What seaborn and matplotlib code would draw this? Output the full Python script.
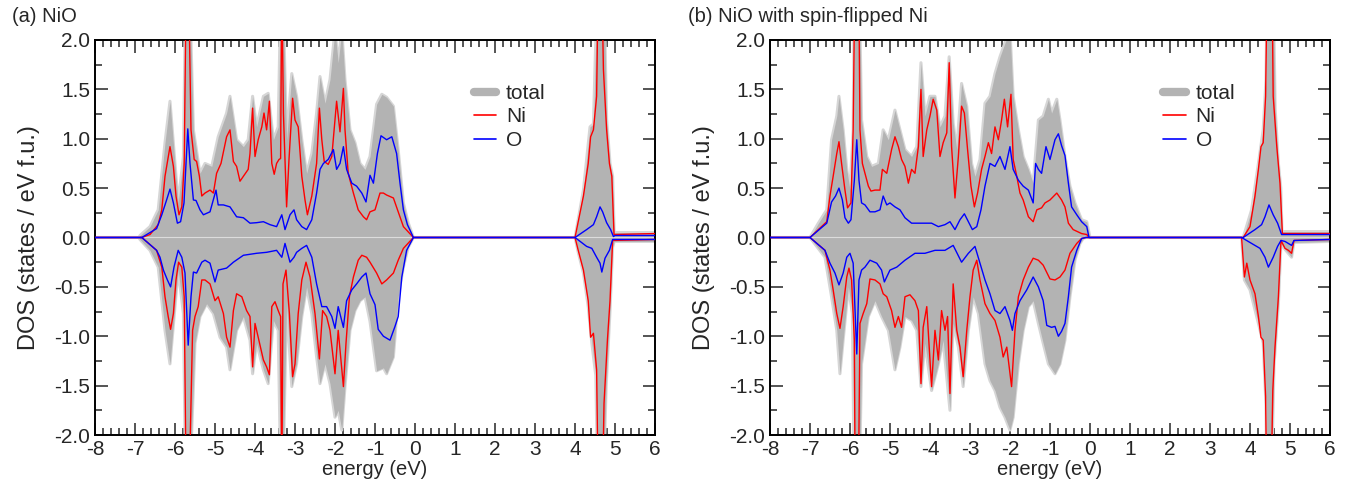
import numpy as np
import pandas as pd
import matplotlib
matplotlib.use('Agg')
import matplotlib.pyplot as plt
from matplotlib.ticker import MultipleLocator
from matplotlib.lines import Line2D
import seaborn as sns

# ---------------- panel (a): NiO ----------------
a_ni_up_e = [-8, -6.83, -6.625, -6.42, -6.33, -6.25, -6.125, -6.04, -5.975, -5.9, -5.83, -5.77, -5.72, -5.66, -5.6,
             -5.52, -5.46, -5.39, -5.33, -5.25, -5.125, -5.04, -4.96, -4.85, -4.71, -4.625, -4.54, -4.46, -4.375,
             -4.29, -4.17, -4.125, -4.06, -4.0, -3.92, -3.83, -3.775, -3.71, -3.64, -3.58, -3.52, -3.46, -3.4, -3.36,
             -3.33, -3.29, -3.21, -3.15, -3.06, -3.0, -2.92, -2.83, -2.75, -2.69, -2.58, -2.46, -2.39, -2.33, -2.27,
             -2.17, -2.08, -1.96, -1.875, -1.79, -1.75, -1.67, -1.54, -1.42, -1.29, -1.21, -1.125, -1.0, -0.875,
             -0.79, -0.71, -0.54, -0.42, -0.29, -0.04, 4.0, 4.21, 4.33, 4.39, 4.46, 4.54, 4.58, 4.67, 4.71, 4.79,
             4.86, 4.92, 4.975, 6.0]
a_ni_up = [0, 0, 0.03, 0.13, 0.28, 0.62, 0.92, 0.72, 0.42, 0.23, 0.31, 0.75, 2.6, 2.6, 1.09,
           0.79, 0.77, 0.62, 0.42, 0.45, 0.48, 0.45, 0.65, 0.75, 1.02, 1.09, 0.77, 0.72, 0.57,
           0.62, 0.69, 0.85, 1.31, 0.82, 0.99, 1.12, 1.26, 1.09, 1.38, 0.75, 0.64, 0.75, 0.79, 0.8,
           2.6, 1.26, 0.31, 0.79, 1.41, 1.19, 1.12, 0.62, 0.38, 0.23, 0.42, 0.75, 1.31, 0.99, 0.77,
           0.74, 0.82, 1.38, 1.07, 1.51, 1.09, 0.65, 0.45, 0.28, 0.21, 0.18, 0.26, 0.28, 0.45,
           0.45, 0.43, 0.40, 0.26, 0.11, 0, 0, 0.42, 0.75, 1.02, 1.09, 1.43, 2.6, 2.6, 1.70, 1.09,
           0.75, 0.62, 0.03, 0.04]

a_ni_dn_e = [-8, -6.83, -6.46, -6.33, -6.25, -6.17, -6.11, -6.04, -5.975, -5.91, -5.83, -5.77, -5.72, -5.65, -5.56,
             -5.5, -5.42, -5.33, -5.25, -5.125, -5.0, -4.92, -4.79, -4.71, -4.625, -4.54, -4.46, -4.33, -4.21,
             -4.125, -4.06, -4.0, -3.92, -3.79, -3.71, -3.64, -3.58, -3.5, -3.42, -3.36, -3.33, -3.3, -3.225,
             -3.14, -3.06, -3.0, -2.92, -2.83, -2.725, -2.625, -2.5, -2.39, -2.31, -2.21, -2.125, -2.0, -1.92,
             -1.79, -1.725, -1.64, -1.54, -1.42, -1.33, -1.21, -1.125, -0.96, -0.83, -0.71, -0.54, -0.42, -0.29,
             -0.04, 4.0, 4.08, 4.21, 4.33, 4.39, 4.46, 4.54, 4.58, 4.685, 4.725, 4.81, 4.875, 4.94, 6.0]
a_ni_dn = [0, 0, -0.13, -0.30, -0.60, -0.80, -0.93, -0.77, -0.43, -0.25, -0.30, -0.60, -2.6, -2.6, -0.94,
           -0.80, -0.70, -0.43, -0.43, -0.47, -0.64, -0.60, -0.77, -1.01, -1.11, -0.74, -0.57, -0.60, -0.74,
           -0.80, -1.31, -0.87, -1.01, -1.24, -1.31, -1.39, -0.70, -0.65, -0.74, -0.80, -2.6, -0.47, -0.33,
           -0.77, -1.41, -1.28, -0.77, -0.43, -0.25, -0.40, -0.77, -1.23, -0.74, -0.80, -0.94, -1.38, -0.94,
           -1.51, -1.07, -0.60, -0.40, -0.23, -0.18, -0.20, -0.25, -0.36, -0.47, -0.43, -0.36, -0.23, -0.11,
           0, 0, -0.13, -0.33, -0.64, -1.01, -0.97, -1.34, -2.6, -2.6, -1.68, -1.04, -0.64, -0.03, -0.02]

a_o_up_e = [-8, -6.83, -6.46, -6.33, -6.21, -6.125, -6.04, -5.94, -5.86, -5.775, -5.68, -5.625, -5.54, -5.475,
            -5.375, -5.29, -5.125, -4.975, -4.92, -4.79, -4.625, -4.46, -4.29, -4.125, -3.96, -3.79, -3.625,
            -3.46, -3.33, -3.25, -3.125, -3.025, -2.96, -2.83, -2.71, -2.58, -2.46, -2.375, -2.29, -2.17, -2.04,
            -1.96, -1.875, -1.79, -1.71, -1.58, -1.46, -1.33, -1.225, -1.125, -1.04, -0.94, -0.85, -0.71, -0.58,
            -0.46, -0.375, -0.29, -0.19, -0.04, 4.0, 4.29, 4.46, 4.54, 4.625, 4.69, 4.79, 4.89, 4.96, 5.0, 6.0]
a_o_up = [0, 0, 0.09, 0.23, 0.38, 0.49, 0.35, 0.145, 0.16, 0.35, 1.10, 0.75, 0.38, 0.375,
          0.28, 0.23, 0.26, 0.48, 0.33, 0.33, 0.31, 0.21, 0.20, 0.145, 0.15, 0.16, 0.13,
          0.11, 0.23, 0.08, 0.23, 0.28, 0.18, 0.11, 0.08, 0.18, 0.45, 0.69, 0.75, 0.79, 0.89,
          0.69, 0.75, 0.92, 0.69, 0.55, 0.52, 0.45, 0.36, 0.63, 0.55, 0.85, 1.03, 0.99, 1.02,
          0.85, 0.55, 0.28, 0.13, 0, 0, 0.08, 0.13, 0.21, 0.31, 0.26, 0.15, 0.08, 0.01, 0.02, 0.02]

a_o_dn_e = [-8, -6.83, -6.46, -6.375, -6.29, -6.19, -6.11, -6.025, -5.92, -5.83, -5.75, -5.67, -5.6, -5.54,
            -5.46, -5.33, -5.25, -5.125, -5.0, -4.92, -4.71, -4.54, -4.29, -3.96, -3.71, -3.46, -3.33, -3.25,
            -3.125, -3.025, -2.96, -2.83, -2.71, -2.58, -2.46, -2.33, -2.21, -2.08, -2.0, -1.92, -1.79, -1.71,
            -1.58, -1.46, -1.33, -1.225, -1.125, -1.0, -0.92, -0.79, -0.625, -0.5, -0.42, -0.33, -0.21, -0.04,
            4.0, 4.29, 4.42, 4.54, 4.625, 4.67, 4.75, 4.86, 4.94, 6.0]
a_o_dn = [0, 0, -0.13, -0.2, -0.33, -0.43, -0.5, -0.3, -0.13, -0.2, -0.36, -1.09, -0.6, -0.35,
          -0.36, -0.25, -0.23, -0.26, -0.45, -0.33, -0.31, -0.25, -0.18, -0.16, -0.15, -0.13, -0.2, -0.06,
          -0.25, -0.2, -0.15, -0.11, -0.08, -0.2, -0.47, -0.70, -0.70, -0.80, -0.92, -0.70, -0.91, -0.64,
          -0.53, -0.47, -0.40, -0.36, -0.57, -0.68, -0.93, -1.0, -1.04, -0.90, -0.80, -0.40, -0.13, 0,
          0, -0.09, -0.11, -0.2, -0.26, -0.35, -0.21, -0.13, -0.02, -0.02]

a_tot_up_e = [-8, -6.9, -6.875, -6.625, -6.42, -6.25, -6.125, -6.0, -5.92, -5.79, -5.73, -5.64, -5.54, -5.375,
              -5.25, -5.08, -4.92, -4.71, -4.625, -4.46, -4.29, -4.17, -4.06, -3.96, -3.79, -3.67, -3.54, -3.42,
              -3.35, -3.31, -3.21, -3.08, -2.96, -2.83, -2.71, -2.58, -2.46, -2.375, -2.25, -2.125, -2.0, -1.92,
              -1.83, -1.75, -1.625, -1.5, -1.375, -1.25, -1.125, -0.96, -0.83, -0.71, -0.54, -0.42, -0.29, -0.17,
              -0.04, 4.0, 4.21, 4.375, 4.46, 4.56, 4.72, 4.79, 4.875, 4.94, 4.98, 6.0]
a_tot_up = [0, 0, 0.02, 0.11, 0.28, 0.96, 1.38, 0.75, 0.35, 0.82, 2.6, 2.6, 1.09, 0.65,
            0.75, 0.72, 1.02, 1.26, 1.43, 0.99, 0.92, 0.99, 1.43, 1.12, 1.43, 1.46, 0.99, 1.12,
            2.6, 2.6, 0.99, 1.66, 1.43, 0.99, 0.65, 0.85, 1.26, 1.63, 1.36, 1.6, 2.1, 1.77,
            2.1, 1.6, 1.09, 0.96, 0.75, 0.69, 0.82, 1.35, 1.45, 1.42, 1.33, 0.89, 0.35, 0.15,
            0, 0, 0.48, 1.12, 1.15, 2.6, 2.6, 1.2, 0.75, 0.62, 0.05, 0.05]

a_tot_dn_e = [-8, -6.9, -6.875, -6.625, -6.42, -6.25, -6.125, -6.0, -5.92, -5.79, -5.73, -5.64, -5.5, -5.375,
              -5.21, -5.04, -4.875, -4.71, -4.625, -4.46, -4.29, -4.125, -4.06, -3.96, -3.79, -3.67, -3.54, -3.42,
              -3.35, -3.31, -3.21, -3.08, -2.96, -2.83, -2.71, -2.58, -2.46, -2.375, -2.25, -2.125, -2.0, -1.92,
              -1.83, -1.75, -1.625, -1.5, -1.375, -1.25, -1.125, -0.96, -0.79, -0.71, -0.54, -0.42, -0.29, -0.17,
              -0.04, 4.0, 4.08, 4.21, 4.33, 4.42, 4.52, 4.57, 4.7, 4.78, 4.875, 4.94, 4.98, 6.0]
a_tot_dn = [0, 0, -0.02, -0.13, -0.3, -0.94, -1.28, -0.7, -0.33, -0.77, -2.6, -2.6, -1.07, -0.8,
            -0.67, -0.77, -1.01, -1.11, -1.34, -0.94, -0.80, -1.04, -1.38, -1.07, -1.34, -1.48, -0.84, -0.94,
            -2.6, -2.6, -0.67, -1.51, -1.28, -0.8, -0.5, -0.77, -1.21, -1.48, -1.28, -1.48, -1.82, -1.75,
            -1.95, -1.51, -0.94, -0.74, -0.64, -0.6, -0.85, -1.35, -1.32, -1.38, -1.21, -0.6, -0.3, -0.1,
            0, 0, -0.15, -0.36, -0.70, -1.07, -1.4, -2.6, -2.6, -1.5, -0.74, -0.1, -0.04, -0.04]

# ---------------- panel (b): NiO with spin-flipped Ni ----------------
b_ni_up_e = [-8, -7.0, -6.79, -6.58, -6.5, -6.42, -6.33, -6.275, -6.21, -6.125, -6.06, -5.975, -5.92, -5.88,
             -5.78, -5.75, -5.69, -5.625, -5.54, -5.475, -5.375, -5.25, -5.19, -5.08, -4.96, -4.875, -4.79,
             -4.71, -4.625, -4.54, -4.46, -4.375, -4.29, -4.225, -4.17, -4.08, -4.0, -3.92, -3.83, -3.75, -3.67,
             -3.58, -3.52, -3.46, -3.375, -3.29, -3.21, -3.14, -3.06, -2.975, -2.89, -2.81, -2.71, -2.625,
             -2.54, -2.46, -2.375, -2.29, -2.21, -2.14, -2.06, -1.975, -1.92, -1.83, -1.75, -1.67, -1.54, -1.42,
             -1.33, -1.21, -1.125, -1.0, -0.83, -0.71, -0.625, -0.54, -0.42, -0.21, -0.08, -0.025, 3.83, 4.0,
             4.125, 4.21, 4.275, 4.33, 4.39, 4.43, 4.55, 4.58, 4.67, 4.75, 4.81, 6.0]
b_ni_up = [0, 0, 0.08, 0.16, 0.42, 0.62, 0.85, 0.97, 0.75, 0.48, 0.3, 0.35, 1.09, 2.6,
           2.6, 1.09, 0.75, 0.65, 0.52, 0.47, 0.48, 0.48, 0.69, 0.65, 0.89, 1.02, 0.92,
           0.79, 0.72, 0.55, 0.69, 0.65, 0.92, 1.5, 0.82, 1.09, 1.23, 1.4, 1.29, 0.82, 0.96,
           1.06, 1.77, 0.92, 0.4, 0.82, 1.33, 1.26, 0.89, 0.52, 0.31, 0.45, 0.69, 0.82,
           0.96, 0.85, 1.12, 0.99, 1.19, 1.4, 1.12, 1.45, 0.79, 0.62, 0.45, 0.38, 0.21, 0.16,
           0.28, 0.3, 0.35, 0.38, 0.45, 0.38, 0.31, 0.145, 0.08, 0.04, 0.03, 0, 0, 0.11,
           0.42, 0.69, 0.92, 0.96, 1.43, 2.6, 2.6, 1.43, 0.92, 0.55, 0.04, 0.04]

b_ni_dn_e = [-8, -7.0, -6.625, -6.5, -6.42, -6.33, -6.25, -6.17, -6.08, -6.025, -5.96, -5.89, -5.87, -5.79,
             -5.75, -5.67, -5.58, -5.5, -5.375, -5.25, -5.17, -5.08, -4.96, -4.875, -4.79, -4.71, -4.625, -4.5,
             -4.375, -4.29, -4.225, -4.17, -4.08, -3.96, -3.875, -3.79, -3.71, -3.625, -3.56, -3.5, -3.42,
             -3.33, -3.25, -3.17, -3.08, -3.0, -2.92, -2.83, -2.75, -2.625, -2.5, -2.375, -2.25, -2.17, -2.08,
             -1.96, -1.875, -1.79, -1.67, -1.54, -1.42, -1.29, -1.17, -1.0, -0.875, -0.75, -0.625, -0.5, -0.33,
             -0.21, -0.1, 3.79, 3.86, 3.92, 4.0, 4.125, 4.21, 4.275, 4.33, 4.39, 4.42, 4.525, 4.57, 4.625,
             4.71, 4.775, 4.875, 4.96, 5.04, 5.1, 6.0]
b_ni_dn = [0, 0, -0.13, -0.33, -0.53, -0.77, -0.92, -0.70, -0.4, -0.31, -0.43, -1.04, -2.6, -2.6,
           -0.87, -0.77, -0.67, -0.42, -0.43, -0.47, -0.57, -0.6, -0.74, -0.91, -0.80, -0.91, -0.6, -0.58,
           -0.64, -0.74, -1.48, -0.91, -0.70, -1.51, -0.94, -1.24, -0.74, -0.94, -0.80, -1.58, -0.47,
           -0.94, -1.11, -1.41, -0.94, -0.6, -0.33, -0.23, -0.43, -0.67, -0.77, -0.84, -1.01, -1.21, -1.11,
           -1.51, -0.94, -0.6, -0.43, -0.30, -0.21, -0.23, -0.28, -0.42, -0.43, -0.40, -0.33, -0.16, -0.06,
           -0.01, 0, 0, -0.4, -0.26, -0.43, -0.57, -0.80, -1.01, -1.04, -1.61, -2.6, -2.6, -1.55, -1.11,
           -0.6, -0.03, -0.11, -0.13, -0.16, -0.03, -0.02]

b_o_up_e = [-8, -7.0, -6.58, -6.46, -6.36, -6.275, -6.19, -6.125, -6.04, -5.975, -5.89, -5.83, -5.775, -5.71,
            -5.625, -5.5, -5.375, -5.25, -5.17, -5.08, -5.0, -4.875, -4.75, -4.625, -4.46, -4.29, -4.125, -3.96,
            -3.79, -3.625, -3.5, -3.375, -3.25, -3.14, -3.04, -2.94, -2.83, -2.725, -2.625, -2.5, -2.375, -2.25,
            -2.125, -2.0, -1.92, -1.79, -1.67, -1.54, -1.42, -1.36, -1.29, -1.21, -1.1, -1.0, -0.875, -0.79,
            -0.71, -0.625, -0.54, -0.46, -0.33, -0.21, -0.08, -0.025, 3.83, 4.125, 4.29, 4.375, 4.475, 4.58,
            4.69, 4.79, 6.0]
b_o_up = [0, 0, 0.145, 0.36, 0.42, 0.5, 0.38, 0.2, 0.145, 0.18, 0.58, 0.99, 0.58, 0.35,
          0.33, 0.26, 0.26, 0.28, 0.42, 0.33, 0.35, 0.31, 0.28, 0.2, 0.145, 0.145, 0.145, 0.145,
          0.11, 0.13, 0.16, 0.08, 0.18, 0.24, 0.16, 0.08, 0.11, 0.28, 0.52, 0.75, 0.72, 0.82,
          0.69, 0.92, 0.69, 0.58, 0.52, 0.48, 0.35, 0.75, 0.69, 0.65, 0.92, 0.79, 0.99, 1.05,
          0.93, 0.83, 0.55, 0.31, 0.23, 0.16, 0.11, 0, 0, 0.08, 0.13, 0.21, 0.33, 0.23,
          0.145, 0.03, 0.03]

b_o_dn_e = [-8, -7.0, -6.625, -6.5, -6.375, -6.275, -6.17, -6.08, -6.0, -5.92, -5.83, -5.775, -5.71, -5.625,
            -5.5, -5.33, -5.21, -5.14, -5.0, -4.83, -4.625, -4.375, -4.125, -3.875, -3.625, -3.42, -3.21, -3.04,
            -2.875, -2.75, -2.625, -2.5, -2.375, -2.25, -2.125, -2.0, -1.94, -1.875, -1.75, -1.58, -1.42, -1.29,
            -1.17, -1.08, -0.96, -0.875, -0.79, -0.71, -0.625, -0.54, -0.46, -0.33, -0.21, -0.1, 3.79, 4.04,
            4.25, 4.375, 4.46, 4.58, 4.69, 4.775, 4.875, 5.04, 5.1, 6.0]
b_o_dn = [0, 0, -0.13, -0.26, -0.36, -0.48, -0.36, -0.2, -0.16, -0.26, -1.18, -0.43, -0.33, -0.30,
          -0.23, -0.26, -0.33, -0.45, -0.33, -0.30, -0.23, -0.16, -0.16, -0.13, -0.13, -0.08, -0.25, -0.16,
          -0.09, -0.26, -0.43, -0.57, -0.74, -0.77, -0.70, -0.84, -0.94, -0.77, -0.64, -0.53, -0.40, -0.5,
          -0.64, -0.89, -0.91, -0.9, -1.0, -0.95, -0.87, -0.6, -0.3, -0.13, -0.01, 0, 0, -0.06,
          -0.11, -0.2, -0.3, -0.2, -0.09, -0.03, -0.04, -0.08, -0.03, -0.02]

b_tot_up_e = [-8, -7.0, -6.79, -6.58, -6.46, -6.33, -6.275, -6.17, -6.08, -6.0, -5.92, -5.89, -5.77, -5.71,
              -5.58, -5.46, -5.29, -5.17, -5.04, -4.875, -4.75, -4.625, -4.46, -4.33, -4.225, -4.125, -4.0,
              -3.875, -3.75, -3.625, -3.52, -3.42, -3.33, -3.21, -3.08, -2.96, -2.875, -2.75, -2.625, -2.5,
              -2.375, -2.25, -2.125, -2.0, -1.92, -1.79, -1.67, -1.54, -1.42, -1.29, -1.17, -1.04, -0.96, -0.83,
              -0.75, -0.625, -0.5, -0.375, -0.21, -0.08, 0.0, 3.83, 4.04, 4.21, 4.33, 4.4, 4.43, 4.58, 4.63,
              4.71, 4.77, 4.8, 6.0]
b_tot_up = [0, 0, 0.145, 0.28, 0.99, 1.23, 1.43, 1.09, 0.69, 0.48, 1.09, 2.6, 2.6, 1.19,
            0.82, 0.72, 0.75, 1.09, 0.99, 1.29, 1.09, 0.89, 0.82, 0.92, 1.77, 1.23, 1.43,
            1.43, 1.12, 1.23, 1.83, 1.16, 0.89, 1.56, 1.33, 0.75, 0.62, 0.79, 1.36, 1.43,
            1.66, 1.83, 1.97, 2.1, 1.43, 1.09, 0.82, 0.69, 0.55, 1.19, 1.23, 1.40, 1.26, 1.40,
            1.19, 0.82, 0.52, 0.35, 0.18, 0.16, 0, 0, 0.28, 0.75, 1.09, 1.6, 2.6, 2.6, 1.3,
            0.75, 0.5, 0.06, 0.06]

b_tot_dn_e = [-8, -7.0, -6.625, -6.46, -6.33, -6.25, -6.17, -6.04, -5.94, -5.89, -5.77, -5.71, -5.54, -5.375,
              -5.21, -5.04, -4.875, -4.75, -4.625, -4.46, -4.33, -4.225, -4.125, -3.96, -3.79, -3.67, -3.5,
              -3.42, -3.29, -3.17, -3.04, -2.92, -2.79, -2.625, -2.5, -2.375, -2.25, -2.125, -2.0, -1.92, -1.79,
              -1.67, -1.54, -1.42, -1.29, -1.17, -1.04, -0.875, -0.75, -0.625, -0.5, -0.375, -0.25, -0.17, -0.1,
              3.79, 3.86, 4.0, 4.21, 4.33, 4.4, 4.42, 4.53, 4.6, 4.71, 4.775, 4.875, 5.04, 5.1, 6.0]
b_tot_dn = [0, 0, -0.2, -0.6, -0.94, -1.38, -1.04, -0.5, -0.77, -2.6, -2.6, -1.28, -0.8, -0.64,
            -0.8, -0.94, -1.34, -1.11, -0.8, -0.84, -0.94, -1.51, -1.07, -1.55, -1.28, -1.04, -1.75,
            -0.87, -1.11, -1.51, -0.94, -0.6, -0.77, -1.28, -1.45, -1.55, -1.72, -1.82, -1.95, -1.82, -1.28,
            -0.94, -0.7, -0.64, -0.87, -1.07, -1.28, -1.38, -1.28, -1.04, -0.6, -0.23, -0.06, -0.01, 0,
            0, -0.43, -0.53, -0.87, -1.07, -1.7, -2.6, -2.6, -1.3, -0.67, -0.06, -0.12, -0.2, -0.05, -0.04]

panels = [
    dict(title='(a) NiO', title_x=0.009, legend_x=0.661,
         total=[(a_tot_up_e, a_tot_up), (a_tot_dn_e, a_tot_dn)],
         lines=[('Ni', 'up', a_ni_up_e, a_ni_up), ('Ni', 'dn', a_ni_dn_e, a_ni_dn),
                ('O', 'up', a_o_up_e, a_o_up), ('O', 'dn', a_o_dn_e, a_o_dn)]),
    dict(title='(b) NiO with spin-flipped Ni', title_x=0.507, legend_x=0.6875,
         total=[(b_tot_up_e, b_tot_up), (b_tot_dn_e, b_tot_dn)],
         lines=[('Ni', 'up', b_ni_up_e, b_ni_up), ('Ni', 'dn', b_ni_dn_e, b_ni_dn),
                ('O', 'up', b_o_up_e, b_o_up), ('O', 'dn', b_o_dn_e, b_o_dn)]),
]

sns.set_style('ticks')
plt.rcParams['font.family'] = ['Liberation Sans', 'DejaVu Sans']
plt.rcParams['axes.unicode_minus'] = False

fig = plt.figure(figsize=(13.57, 4.98), dpi=100)
axes = [fig.add_axes([0.0700, 0.1265, 0.4127, 0.7932]),
        fig.add_axes([0.5674, 0.1265, 0.4127, 0.7932])]

fs = 15
for ax, p in zip(axes, panels):
    for e, d in p['total']:
        ax.plot(e, d, color='#d6d6d6', lw=2.2, zorder=1)
        ax.fill_between(e, d, 0, color='#b3b3b3', lw=0, zorder=1.5)
    ax.axhline(0, color='#dcdcdc', lw=0.8, zorder=2)

    df = pd.concat([pd.DataFrame({'energy': e, 'dos': d, 'species': sp, 'spin': s})
                    for sp, s, e, d in p['lines']], ignore_index=True)
    sns.lineplot(data=df, x='energy', y='dos', hue='species', units='spin', estimator=None,
                 sort=False, hue_order=['Ni', 'O'], palette={'Ni': '#ff0000', 'O': '#0000ff'},
                 linewidth=1.0, legend=False, ax=ax, zorder=3)

    ax.set_xlim(-8, 6)
    ax.set_ylim(-2, 2)
    ax.xaxis.set_major_locator(MultipleLocator(1))
    ax.xaxis.set_minor_locator(MultipleLocator(0.2))
    ax.yaxis.set_major_locator(MultipleLocator(0.5))
    ax.yaxis.set_minor_locator(MultipleLocator(0.25))
    ax.yaxis.set_major_formatter(matplotlib.ticker.FormatStrFormatter('%.1f'))
    ax.tick_params(which='both', direction='in', top=True, right=True, labelsize=fs, width=1.1)
    ax.tick_params(which='major', length=9)
    ax.tick_params(which='minor', length=5)
    for sp in ax.spines.values():
        sp.set_linewidth(1.4)
        sp.set_color('black')
    ax.set_xlabel('energy (eV)', fontsize=14.5, labelpad=1)
    ax.set_ylabel('DOS (states / eV f.u.)', fontsize=17, labelpad=10)

    handles = [Line2D([], [], color='#b3b3b3', lw=6),
               Line2D([], [], color='#ff0000', lw=1.2),
               Line2D([], [], color='#0000ff', lw=1.2)]
    ax.legend(handles, ['total', 'Ni', 'O'], loc='upper left', bbox_to_anchor=(p['legend_x'], 0.91),
              frameon=False, fontsize=fs, handlelength=1.1, handletextpad=0.45,
              labelspacing=0.22, borderaxespad=0)

    fig.text(p['title_x'], 0.985, p['title'], fontsize=14.5, va='top', ha='left')

fig.savefig('out.png', dpi=100)
